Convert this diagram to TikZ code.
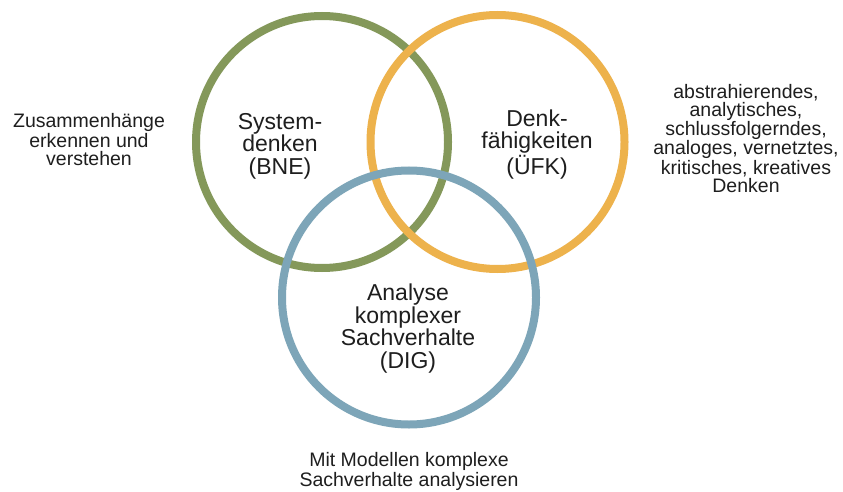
\documentclass[tikz,border=0pt]{standalone}
\usepackage{fontspec}
\setmainfont{Liberation Sans}
\definecolor{cgreen}{HTML}{84985A}
\definecolor{corange}{HTML}{EDB24C}
\definecolor{cblue}{HTML}{7DA5B8}
\definecolor{ctext}{HTML}{1E1E1E}
\begin{document}
\begin{tikzpicture}[x=1pt,y=-1pt,
  ring/.style={line width=8pt},
  lbl/.style={align=center,inner sep=0pt,anchor=base,text=ctext,font=\fontsize{23}{22.5}\selectfont},
  side/.style={align=center,inner sep=0pt,anchor=base,text=ctext,font=\fontsize{19.5}{18}\selectfont}]
\useasboundingbox (0,0) rectangle (843,492);
\fill[white] (0,0) rectangle (843,492);
\node[circle,ring,draw=cgreen,minimum size=252pt,inner sep=0pt] (green) at (322,142) {};
\node[circle,ring,draw=corange,minimum size=254pt,inner sep=0pt] (orange) at (497.5,142) {};
\node[circle,ring,draw=cblue,minimum size=254pt,inner sep=0pt] (blue) at (409,297.5) {};
\node[lbl] (lg) at (280,174) {System-\\denken\\(BNE)};
\node[lbl] (lo) at (537,174) {Denk-\\fähigkeiten\\(ÜFK)};
\node[lbl] (lb) at (408,368) {Analyse\\komplexer\\Sachverhalte\\(DIG)};
\node[side] (tl) at (89,165) {Zusammenhänge\\erkennen und\\verstehen};
\node[side] (tr) at (746,192) {abstrahierendes,\\analytisches,\\schlussfolgerndes,\\analoges, vernetztes,\\kritisches, kreatives\\Denken};
\node[side] (tb) at (409,486) {Mit Modellen komplexe\\Sachverhalte analysieren};
\end{tikzpicture}
\end{document}
